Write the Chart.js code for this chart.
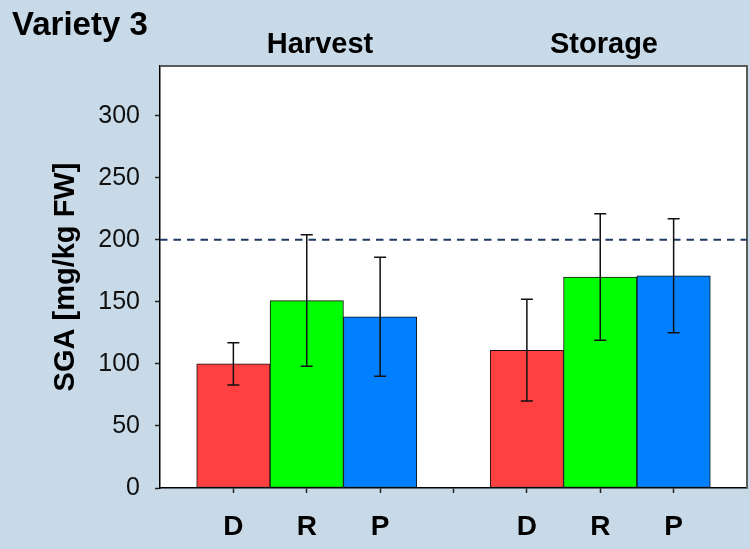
<!DOCTYPE html>
<html>
<head>
<meta charset="utf-8">
<script src="https://cdn.jsdelivr.net/npm/chart.js@4.4.1/dist/chart.umd.min.js"></script>
<style>
  body { margin: 0; background: #c8dae8; }
  #wrap { width: 750px; height: 549px; }
</style>
</head>
<body>
<div id="wrap"><canvas id="sga-chart" width="750" height="549"></canvas></div>
<script>
// Data (empty slots keep the gap between the two groups)
const categories = ['', 'D', 'R', 'P', '', 'D', 'R', 'P', ''];
const sgaMeans = [null, 100, 151, 138, null, 111, 170, 171, null];
const sgaErrors = [null, 17, 53, 48, null, 41, 51, 46, null];
const barColors = [null, '#ff4040', '#00ff00', '#0080ff', null, '#ff4040', '#00ff00', '#0080ff', null];
const yTicks = [0, 50, 100, 150, 200, 250, 300];
const groupTitles = ['Harvest', 'Storage'];
const limitValue = 200;

const FONT = '"Liberation Sans", Arial, sans-serif';
const BG = '#c8dae8';

// Background, white plot area, frame, limit line, error bars and titles
const decorations = {
    id: 'decorations',
    beforeDraw(chart) {
        const { ctx, chartArea: a } = chart;
        ctx.save();
        ctx.fillStyle = BG;
        ctx.fillRect(0, 0, chart.width, chart.height);
        ctx.fillStyle = '#fff';
        ctx.fillRect(a.left, a.top, a.right - a.left, a.bottom - a.top);
        ctx.restore();
    },
    afterDatasetsDraw(chart) {
        const { ctx, chartArea: a } = chart;
        const y = chart.scales.y;
        const meta = chart.getDatasetMeta(0);

        ctx.save();
        // top and right frame
        ctx.strokeStyle = '#5a5a5a';
        ctx.lineWidth = 2;
        ctx.beginPath();
        ctx.moveTo(a.left, a.top);
        ctx.lineTo(a.right, a.top);
        ctx.lineTo(a.right, a.bottom);
        ctx.stroke();

        // dashed limit line
        const ly = y.getPixelForValue(limitValue);
        ctx.strokeStyle = '#1f3a60';
        ctx.lineWidth = 2;
        ctx.setLineDash([7.5, 6]);
        ctx.beginPath();
        ctx.moveTo(a.left, ly);
        ctx.lineTo(a.right, ly);
        ctx.stroke();
        ctx.setLineDash([]);

        // error bars
        ctx.strokeStyle = '#111';
        ctx.lineWidth = 1.5;
        sgaMeans.forEach((v, i) => {
            if (v == null) return;
            const cx = meta.data[i].x;
            const yTop = y.getPixelForValue(v + sgaErrors[i]);
            const yBot = y.getPixelForValue(v - sgaErrors[i]);
            ctx.beginPath();
            ctx.moveTo(cx, yTop); ctx.lineTo(cx, yBot);
            ctx.moveTo(cx - 6, yTop); ctx.lineTo(cx + 6, yTop);
            ctx.moveTo(cx - 6, yBot); ctx.lineTo(cx + 6, yBot);
            ctx.stroke();
        });

        // titles
        ctx.fillStyle = '#000';
        ctx.textBaseline = 'alphabetic';
        ctx.font = 'bold 33px ' + FONT;
        ctx.textAlign = 'left';
        ctx.fillText('Variety 3', 12, 35);
        ctx.font = 'bold 29px ' + FONT;
        ctx.textAlign = 'center';
        ctx.fillText(groupTitles[0], 320, 53);
        ctx.fillText(groupTitles[1], 604, 53);
        ctx.restore();
    }
};

const chart = new Chart(document.getElementById('sga-chart'), {
    type: 'bar',
    data: {
        labels: categories,
        datasets: [{
            data: sgaMeans,
            backgroundColor: barColors,
            borderColor: '#111',
            borderWidth: 1,
            borderSkipped: false,
            categoryPercentage: 1,
            barPercentage: 1
        }]
    },
    options: {
        responsive: false,
        animation: false,
        layout: { padding: { top: 66, right: 3, left: 0, bottom: 0 } },
        plugins: { legend: { display: false }, tooltip: { enabled: false } },
        scales: {
            x: {
                offset: false,
                afterFit: s => { s.height = 61; s.paddingLeft = 0; s.paddingRight = 0; },
                grid: {
                    offset: false,
                    drawOnChartArea: false,
                    tickLength: 5,
                    tickColor: c => (c.index === 0 || c.index === categories.length - 1) ? 'rgba(0,0,0,0)' : '#222',
                    tickWidth: 1.5
                },
                border: { color: '#000', width: 1.5 },
                ticks: {
                    autoSkip: false,
                    maxRotation: 0,
                    padding: 17,
                    color: '#000',
                    font: { family: FONT, size: 28, weight: 'bold' }
                }
            },
            y: {
                min: 0,
                max: 340,
                afterFit: s => { s.width = 160; },
                afterBuildTicks: s => { s.ticks = yTicks.map(v => ({ value: v })); },
                grid: { drawOnChartArea: false, tickLength: 5, tickColor: '#222', tickWidth: 1.5 },
                border: { color: '#000', width: 1.5 },
                ticks: {
                    padding: 15,
                    color: '#111',
                    font: { family: FONT, size: 25 }
                },
                title: {
                    display: true,
                    text: 'SGA [mg/kg FW]',
                    color: '#000',
                    font: { family: FONT, size: 29, weight: 'bold' },
                    padding: { top: 49, bottom: 0 }
                }
            }
        }
    },
    plugins: [decorations]
});
</script>
</body>
</html>
